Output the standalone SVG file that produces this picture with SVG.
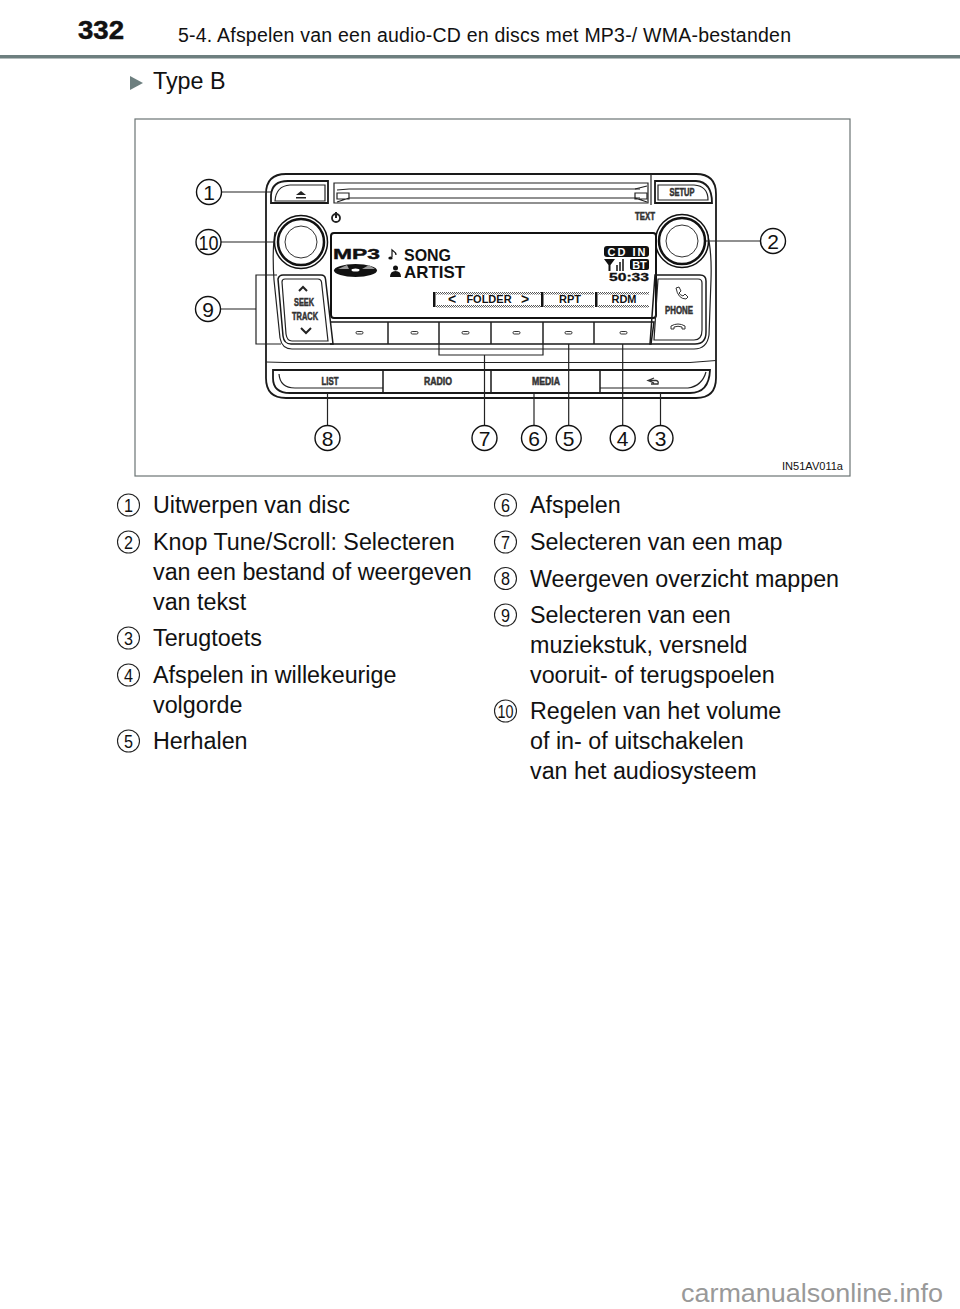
<svg xmlns="http://www.w3.org/2000/svg" width="960" height="1309" viewBox="0 0 960 1309">
<style>
text{font-family:"Liberation Sans",Arial,sans-serif;fill:#111}
.b{font-size:23.300px}
.l{fill:none;stroke:#222;stroke-width:1.200}
.t{fill:none;stroke:#1a1a1a;stroke-width:1.800}
.c{fill:#fff;stroke:#111;stroke-width:1.400}
.n{font-size:21px;text-anchor:middle}
.ic{fill:#fff;stroke:#222;stroke-width:1.100}
.in{font-size:18px;text-anchor:middle}
.k{font-size:10px;font-weight:bold;text-anchor:middle;fill:#333;stroke:#333;stroke-width:.5}
.d{font-size:17px;font-weight:bold}
.s{font-size:11px;font-weight:bold;text-anchor:middle}
.band{fill:url(#h)}
.dash{fill:#fff;stroke:#333;stroke-width:1}
</style>
<defs>
<pattern id="h" width="2" height="2" patternUnits="userSpaceOnUse"><rect width="2" height="2" fill="#fff"/><rect width="1" height="1" fill="#555"/><rect x="1" y="1" width="1" height="1" fill="#555"/></pattern>
</defs>
<rect width="960" height="1309" fill="#fff"/>
<g id="header">
<text x="78" y="39" textLength="46" lengthAdjust="spacingAndGlyphs" style="font-size:25px;font-weight:bold;stroke:#111;stroke-width:.5">332</text>
<text x="178" y="42" textLength="613" lengthAdjust="spacing" style="font-size:19.500px">5-4. Afspelen van een audio-CD en discs met MP3-/ WMA-bestanden</text>
<rect x="0" y="55" width="960" height="3.500" fill="#6d7f7f"/>
<path d="M130 76L143 83L130 90Z" fill="#6d7f7f"/>
<text x="153" y="89" class="b">Type B</text>
</g>
<rect id="frame" x="135" y="119" width="715" height="357" fill="#fff" stroke="#6b7474" stroke-width="1.200"/>
<g id="radio">
<path class="t" d="M286 174H696Q716 174 716 194V378Q716 398 696 398H286Q266 398 266 378V194Q266 174 286 174Z"/>
<path class="l" d="M266 362Q275 362 285 362.500H690L716 360.500"/>
<path class="l" d="M275 232Q272 250 274 280L280 338Q282 349 292 349H694Q707 349 709 335L711 280Q712 250 707 232"/>
<g id="eject"><path class="t" d="M271 203V195Q272 181 288 181H328V203Z"/><path class="l" d="M275 201Q276 186 290 185H325V201Z"/><path d="M301 191L306 195H296Z M296 197H306V198.500H296Z" fill="#222"/></g>
<g id="slot"><path class="l" d="M334 183H648V203H334Z"/><path class="l" d="M349 189H640M349 198H640"/><path class="l" d="M337 193H349V199H337ZM635 193H647V199H635ZM337 190L349 189M337 202L349 198M647 186L635 189M647 202L635 198"/></g>
<path class="l" d="M651 174V205"/>
<g id="setup"><path class="t" d="M655 181H696Q712 182 712 203H655Z"/><path class="l" d="M658 185H694Q708 186 708 200H658Z"/><text x="682" y="196" textLength="25" lengthAdjust="spacingAndGlyphs" class="k">SETUP</text></g>
<g id="power"><circle cx="336" cy="218" r="4" fill="none" stroke="#222" stroke-width="1.800"/><path d="M336 212V218" stroke="#222" stroke-width="2"/></g>
<text x="645" y="220" textLength="20" lengthAdjust="spacingAndGlyphs" class="k">TEXT</text>
<g id="knob-left"><circle cx="301" cy="242" r="26.500" fill="#fff" stroke="#111" stroke-width="1.500"/><circle cx="301" cy="242" r="23" fill="none" stroke="#111" stroke-width="2.500"/><circle cx="301" cy="242" r="16" fill="#fff" stroke="#333" stroke-width="1"/></g>
<g id="knob-right"><circle cx="682" cy="241" r="26.500" fill="#fff" stroke="#111" stroke-width="1.500"/><circle cx="682" cy="241" r="23" fill="none" stroke="#111" stroke-width="2.500"/><circle cx="682" cy="241" r="16" fill="#fff" stroke="#333" stroke-width="1"/></g>
<g id="display">
<rect x="331" y="233" width="325" height="85" rx="3" fill="#fff" stroke="#111" stroke-width="2"/>
<text x="333" y="259" textLength="47" lengthAdjust="spacingAndGlyphs" style="font-size:15px;font-weight:bold;stroke:#111;stroke-width:.4">MP3</text>
<ellipse cx="355.500" cy="270.500" rx="21.500" ry="6.500" fill="#111"/>
<path d="M338 269L347 265L349 269ZM362 269L369 265L375 269Z" fill="#999"/>
<ellipse cx="355.500" cy="270" rx="4" ry="1.500" fill="#fff"/>
<path d="M392 257V250C393 251 396 252 396 255" fill="none" stroke="#111" stroke-width="1.200"/><ellipse cx="390.500" cy="258" rx="2.200" ry="1.600" fill="#111"/>
<circle cx="395.500" cy="268" r="2.500" fill="#111"/><path d="M390 277Q390 271 395.500 271Q401 271 401 277Z" fill="#111"/>
<text x="404" y="260.500" textLength="47" lengthAdjust="spacingAndGlyphs" class="d">SONG</text>
<text x="404" y="278" textLength="61" lengthAdjust="spacingAndGlyphs" class="d">ARTIST</text>
<rect x="604" y="246" width="45" height="11" rx="3" fill="#111"/>
<text x="626.500" y="255.500" textLength="38" lengthAdjust="spacing" style="font-size:11px;font-weight:bold;fill:#fff;text-anchor:middle">CD IN</text>
<path d="M604 259H615L610.500 265V271H608.500V265Z" fill="#111"/><path d="M617 271V265M620 271V262M623 271V259" stroke="#111" stroke-width="1.500"/>
<rect x="630" y="259" width="19" height="11" rx="2" fill="#111"/>
<text x="639.500" y="269" style="font-size:11px;font-weight:bold;fill:#fff;text-anchor:middle">BT</text>
<text x="609" y="280.500" textLength="40" lengthAdjust="spacingAndGlyphs" style="font-size:10.500px;font-weight:bold;stroke:#111;stroke-width:.3">50:33</text>
<rect x="433" y="292" width="2.500" height="15" fill="#111"/>
<rect x="541" y="292" width="2.500" height="15" fill="#111"/>
<rect x="595" y="292" width="2.500" height="15" fill="#111"/>
<rect x="436" y="292" width="105" height="2.500" class="band"/><rect x="436" y="305" width="105" height="2.500" class="band"/>
<rect x="544" y="292" width="50" height="2.500" class="band"/><rect x="544" y="305" width="50" height="2.500" class="band"/>
<rect x="598" y="292" width="51" height="2.500" class="band"/><rect x="598" y="305" width="51" height="2.500" class="band"/>
<text x="452" y="304" class="s" style="font-size:14px">&lt;</text><text x="489" y="303" class="s">FOLDER</text><text x="525" y="304" class="s" style="font-size:14px">&gt;</text>
<text x="570" y="303" class="s">RPT</text><text x="624" y="303" class="s">RDM</text>
</g>
<g id="softkeys">
<path class="t" d="M330 344H651L654 322H330" style="stroke-width:1.500"/>
<path class="l" d="M388 322V344M439 322V344M491 322V344M543 322V344M594 322V344" style="stroke-width:1.500"/>
<rect class="dash" x="356" y="331.500" width="7" height="2.500" rx="1.200"/>
<rect class="dash" x="411" y="331.500" width="7" height="2.500" rx="1.200"/>
<rect class="dash" x="462" y="331.500" width="7" height="2.500" rx="1.200"/>
<rect class="dash" x="513" y="331.500" width="7" height="2.500" rx="1.200"/>
<rect class="dash" x="565" y="331.500" width="7" height="2.500" rx="1.200"/>
<rect class="dash" x="620" y="331.500" width="7" height="2.500" rx="1.200"/>
</g>
<g id="seek"><path class="t" d="M278 279Q279 275 283 275H321Q325 275 325.500 279L333 344H291Q284 344 283 336Z" style="stroke-width:1.500"/><path class="l" d="M282 282Q282 279 285 279H318Q321 279 321.500 282L328 341H292Q287 341 286 334Z"/><path d="M299 291L303 287L307 291M301 328L306 333L311 328" fill="none" stroke="#222" stroke-width="2"/><text x="304" y="306" textLength="20" lengthAdjust="spacingAndGlyphs" class="k">SEEK</text><text x="305" y="320" textLength="26" lengthAdjust="spacingAndGlyphs" class="k">TRACK</text></g>
<g id="phone"><path class="t" d="M655 275H700Q706 275 706 281V332Q706 344 695 344H650Z" style="stroke-width:1.500"/><path class="l" d="M658 279H698Q702 279 702 283V330Q702 340 694 340H654Z"/><path d="M676 288L679 287L681 291L679 293Q680 295 683 296L685 294L688 297L686 299Q678 299 676 288Z" fill="#fff" stroke="#333" stroke-width="1"/><text x="679" y="313.500" textLength="28" lengthAdjust="spacingAndGlyphs" class="k">PHONE</text><path d="M671 329V326Q678 322 685 326V329H682V327Q678 325.500 674 327V329Z" fill="#fff" stroke="#333" stroke-width="1"/></g>
<g id="lower-strip">
<path class="t" d="M273 370H710Q709 393 690 393H290Q273 393 273 378Z"/>
<path class="l" d="M279 374Q280 388 295 388H383M600 388H688Q702 386 706 372"/>
<path class="t" d="M383 370V393M491 370V393M600 370V393" style="stroke-width:1.500"/>
<text x="330" y="384.500" textLength="17" lengthAdjust="spacingAndGlyphs" class="k">LIST</text><text x="438" y="384.500" textLength="28" lengthAdjust="spacingAndGlyphs" class="k">RADIO</text><text x="546" y="384.500" textLength="28" lengthAdjust="spacingAndGlyphs" class="k">MEDIA</text>
<path d="M654 378L648 380.500L654 383M649 380.500H656Q659 381 658 384H651" fill="none" stroke="#333" stroke-width="1.300"/>
</g>
</g>
<g id="connectors">
<path class="l" d="M221 192H271"/>
<path class="l" d="M221 242H275"/>
<path class="l" d="M706 241H761"/>
<path class="l" d="M221 309H256M277 275H256V344H281"/>
<path class="l" d="M439 344V355H543V344M484.500 355V425"/>
<path class="l" d="M327.500 393V425"/>
<path class="l" d="M534 393V425"/>
<path class="l" d="M568.700 344V425"/>
<path class="l" d="M622.700 344V425"/>
<path class="l" d="M660.500 393V425"/>
</g>
<g id="callout-1"><circle class="c" cx="209" cy="192" r="12.500"/><text class="n" x="209" y="199.500">1</text></g>
<g id="callout-10"><circle class="c" cx="208.500" cy="242" r="12.500"/><text class="n" x="208.500" y="249.500" textLength="20" lengthAdjust="spacingAndGlyphs">10</text></g>
<g id="callout-9"><circle class="c" cx="208" cy="309" r="12.500"/><text class="n" x="208" y="316.500">9</text></g>
<g id="callout-2"><circle class="c" cx="773" cy="241" r="12.500"/><text class="n" x="773" y="248.500">2</text></g>
<g id="callout-8"><circle class="c" cx="327.500" cy="438" r="12.500"/><text class="n" x="327.500" y="445.500">8</text></g>
<g id="callout-7"><circle class="c" cx="484.500" cy="438" r="12.500"/><text class="n" x="484.500" y="445.500">7</text></g>
<g id="callout-6"><circle class="c" cx="534" cy="438" r="12.500"/><text class="n" x="534" y="445.500">6</text></g>
<g id="callout-5"><circle class="c" cx="568.700" cy="438" r="12.500"/><text class="n" x="568.700" y="445.500">5</text></g>
<g id="callout-4"><circle class="c" cx="622.700" cy="438" r="12.500"/><text class="n" x="622.700" y="445.500">4</text></g>
<g id="callout-3"><circle class="c" cx="660.500" cy="438" r="12.500"/><text class="n" x="660.500" y="445.500">3</text></g>
<text x="782" y="470" textLength="61" lengthAdjust="spacingAndGlyphs" style="font-size:11px">IN51AV011a</text>
<g id="legend-left">
<g id="item-1"><circle class="ic" cx="128.500" cy="505" r="11"/><text class="in" x="128.500" y="511.500" textLength="9" lengthAdjust="spacingAndGlyphs">1</text><text class="b" x="153" y="513">Uitwerpen van disc</text></g>
<g id="item-2"><circle class="ic" cx="128.500" cy="542" r="11"/><text class="in" x="128.500" y="548.500" textLength="9" lengthAdjust="spacingAndGlyphs">2</text><text class="b" x="153" y="550">Knop Tune/Scroll: Selecteren</text><text class="b" x="153" y="580">van een bestand of weergeven</text><text class="b" x="153" y="610">van tekst</text></g>
<g id="item-3"><circle class="ic" cx="128.500" cy="638" r="11"/><text class="in" x="128.500" y="644.500" textLength="9" lengthAdjust="spacingAndGlyphs">3</text><text class="b" x="153" y="646">Terugtoets</text></g>
<g id="item-4"><circle class="ic" cx="128.500" cy="675" r="11"/><text class="in" x="128.500" y="681.500" textLength="9" lengthAdjust="spacingAndGlyphs">4</text><text class="b" x="153" y="683">Afspelen in willekeurige</text><text class="b" x="153" y="713">volgorde</text></g>
<g id="item-5"><circle class="ic" cx="128.500" cy="741" r="11"/><text class="in" x="128.500" y="747.500" textLength="9" lengthAdjust="spacingAndGlyphs">5</text><text class="b" x="153" y="749">Herhalen</text></g>
</g>
<g id="legend-right">
<g id="item-6"><circle class="ic" cx="505.500" cy="505" r="11"/><text class="in" x="505.500" y="511.500" textLength="9" lengthAdjust="spacingAndGlyphs">6</text><text class="b" x="530" y="513">Afspelen</text></g>
<g id="item-7"><circle class="ic" cx="505.500" cy="542" r="11"/><text class="in" x="505.500" y="548.500" textLength="9" lengthAdjust="spacingAndGlyphs">7</text><text class="b" x="530" y="550">Selecteren van een map</text></g>
<g id="item-8"><circle class="ic" cx="505.500" cy="578.500" r="11"/><text class="in" x="505.500" y="585" textLength="9" lengthAdjust="spacingAndGlyphs">8</text><text class="b" x="530" y="587">Weergeven overzicht mappen</text></g>
<g id="item-9"><circle class="ic" cx="505.500" cy="615" r="11"/><text class="in" x="505.500" y="621.500" textLength="9" lengthAdjust="spacingAndGlyphs">9</text><text class="b" x="530" y="623">Selecteren van een</text><text class="b" x="530" y="653">muziekstuk, versneld</text><text class="b" x="530" y="683">vooruit- of terugspoelen</text></g>
<g id="item-10"><circle class="ic" cx="505.500" cy="711" r="11"/><text class="in" x="505.500" y="717.500" textLength="16" lengthAdjust="spacingAndGlyphs">10</text><text class="b" x="530" y="719">Regelen van het volume</text><text class="b" x="530" y="749">of in- of uitschakelen</text><text class="b" x="530" y="779">van het audiosysteem</text></g>
</g>
<text x="681" y="1302" textLength="262" lengthAdjust="spacingAndGlyphs" style="font-size:26px;fill:#999">carmanualsonline.info</text>
</svg>
